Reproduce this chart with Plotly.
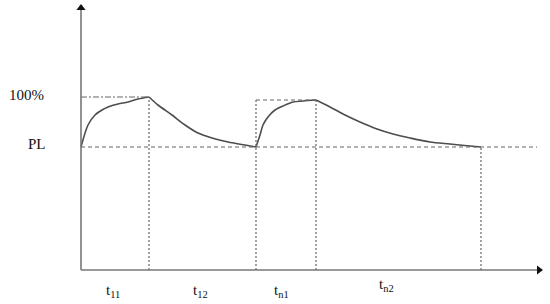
import plotly.graph_objects as go

# curve points (time units, level units; PL = 123, 100% = 173)
rise1_x = [0, 7, 14, 21, 27, 37, 47, 57, 68]
rise1_y = [123, 145, 155, 160, 163, 166, 168, 171, 173]
fall1_x = [68, 77, 91, 104, 117, 131, 147, 164, 175]
fall1_y = [173, 165, 155, 145, 137, 132, 128, 125, 123]
rise2_x = [175, 179, 182, 187, 194, 202, 212, 222, 235]
rise2_y = [123, 135, 145, 153, 160, 164, 168, 169, 170]
fall2_x = [235, 249, 262, 279, 296, 312, 329, 349, 369, 389, 400]
fall2_y = [170, 163, 156, 148, 141, 136, 132, 128, 126, 124, 123]

pl_level = 123
full_level = 173
peak2_level = 170
t_marks = [68, 175, 235, 400]
t_labels = ["t<sub>11</sub>", "t<sub>12</sub>", "t<sub>n1</sub>", "t<sub>n2</sub>"]
t_label_x = [32, 119, 200, 305]
t_label_y = [-21, -21, -21, -15]

curve = dict(color="#4d4d4d", width=1.6, shape="spline", smoothing=0.8)
dash = dict(color="#666666", width=1.2, dash="4px,3px")
dot = dict(color="#666666", width=1.2, dash="2px,2px")

data = []
for xs, ys in [(rise1_x, rise1_y), (fall1_x, fall1_y), (rise2_x, rise2_y), (fall2_x, fall2_y)]:
    data.append(go.Scatter(x=xs, y=ys, mode="lines", line=curve, hoverinfo="skip"))

# PL dashed line
data.append(go.Scatter(x=[0, 456], y=[pl_level, pl_level], mode="lines", line=dash, hoverinfo="skip"))
# 100% dash-dot line
data.append(go.Scatter(x=[0, t_marks[0]], y=[full_level, full_level], mode="lines", hoverinfo="skip",
                       line=dict(color="#666666", width=1.2, dash="6px,2px,2px,2px")))
# box top of second cycle
data.append(go.Scatter(x=[t_marks[1], t_marks[2]], y=[peak2_level, peak2_level], mode="lines",
                       line=dash, hoverinfo="skip"))
# vertical dotted lines
tops = [full_level, peak2_level, peak2_level, pl_level]
for tx, top in zip(t_marks, tops):
    data.append(go.Scatter(x=[tx, tx], y=[0, top], mode="lines", line=dot, hoverinfo="skip"))

# axes with arrow heads
axis_line = dict(color="#777777", width=1.6)
data.append(go.Scatter(x=[0, 0], y=[0, 262], mode="lines", line=axis_line, hoverinfo="skip"))
data.append(go.Scatter(x=[0, 458], y=[0, 0], mode="lines", line=axis_line, hoverinfo="skip"))
data.append(go.Scatter(x=[0], y=[262], mode="markers", hoverinfo="skip",
                       marker=dict(symbol="triangle-up", size=8, color="#111111")))
data.append(go.Scatter(x=[458], y=[0], mode="markers", hoverinfo="skip",
                       marker=dict(symbol="triangle-right", size=8, color="#111111")))

font = dict(family="Liberation Serif, Times New Roman, serif", size=15, color="#111111")
annotations = [dict(x=-55, y=175, text="100%", showarrow=False, font=font),
               dict(x=-44, y=126, text="PL", showarrow=False, font=font)]
for lx, ly, lt in zip(t_label_x, t_label_y, t_labels):
    annotations.append(dict(x=lx, y=ly, text=lt, showarrow=False, font=font))

layout = go.Layout(width=550, height=304, margin=dict(l=0, r=0, t=0, b=0),
                   showlegend=False, plot_bgcolor="white", paper_bgcolor="white",
                   xaxis=dict(range=[-81, 469], visible=False),
                   yaxis=dict(range=[-34, 270], visible=False),
                   annotations=annotations)

fig = go.Figure(data=data, layout=layout)
fig.write_html("out.html", config={"displayModeBar": False},
               post_script="document.body.style.margin='0px';")
